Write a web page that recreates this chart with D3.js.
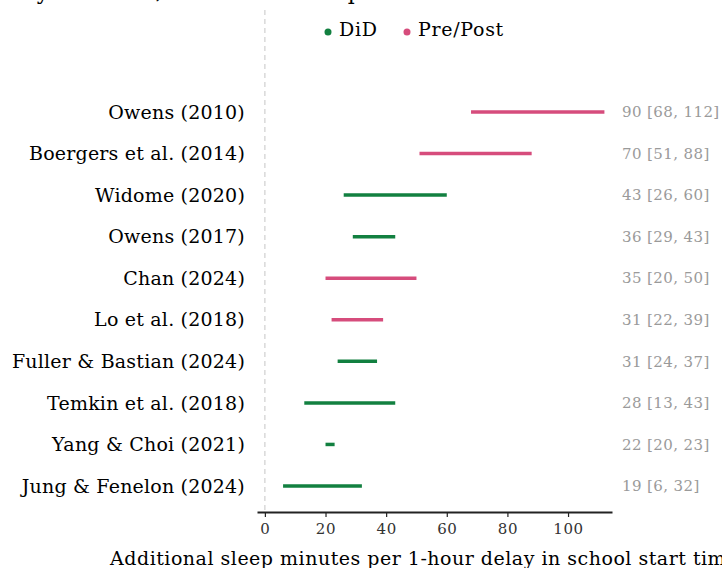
<!DOCTYPE html>
<html>
<head>
<meta charset="utf-8">
<script src="https://cdn.jsdelivr.net/npm/d3@7"></script>
<style>
  body { margin: 0; background: #fff; }
  svg { display: block; }
  text { font-family: "DejaVu Serif", serif; }
</style>
</head>
<body>
<svg id="chart" width="722" height="568"></svg>
<script>
var studies = ["Owens (2010)", "Boergers et al. (2014)", "Widome (2020)", "Owens (2017)", "Chan (2024)",
  "Lo et al. (2018)", "Fuller & Bastian (2024)", "Temkin et al. (2018)", "Yang & Choi (2021)", "Jung & Fenelon (2024)"];
var estimates = [90, 70, 43, 36, 35, 31, 31, 28, 22, 19];
var lower = [68, 51, 26, 29, 20, 22, 24, 13, 20, 6];
var upper = [112, 88, 60, 43, 50, 39, 37, 43, 23, 32];
var designs = ["Pre/Post", "Pre/Post", "DiD", "DiD", "Pre/Post", "Pre/Post", "DiD", "DiD", "DiD", "DiD"];
var legendKeys = ["DiD", "Pre/Post"];
var xTicks = [0, 20, 40, 60, 80, 100];

var svg = d3.select("#chart"),
  width = +svg.attr("width"),
  height = +svg.attr("height");

var color = d3.scaleOrdinal().domain(legendKeys).range(["#128040", "#d64c7c"]);

var x = d3.scaleLinear().domain([-2.6, 114.5]).range([257, 612]);
var y = d3.scalePoint().domain(studies).range([112, 486]);

var rows = studies.map(function(s, i) {
  return { study: s, est: estimates[i], lo: lower[i], hi: upper[i], design: designs[i] };
});

// title, mostly above the frame
svg.append("text")
  .attr("x", width / 2)
  .attr("y", -1)
  .attr("text-anchor", "middle")
  .style("font-size", "22px")
  .text("Delay the Start, Boost Teen Sleep: Estimated Effects of Each Study");

// zero reference
svg.append("line")
  .attr("x1", x(0)).attr("x2", x(0))
  .attr("y1", 10).attr("y2", 510)
  .attr("stroke", "#cfcfcf")
  .attr("stroke-width", 1.2)
  .attr("stroke-dasharray", "5,4");

// legend
var legend = svg.append("g").selectAll("g").data(legendKeys).enter().append("g")
  .attr("transform", function(d, i) { return "translate(" + (i === 0 ? 328 : 407) + ",29)"; });
legend.append("circle").attr("r", 3.5).attr("cy", 3).attr("fill", function(d) { return color(d); });
legend.append("text")
  .attr("x", 11).attr("dy", "0.35em")
  .style("font-size", "19px")
  .style("letter-spacing", "0.7px")
  .text(function(d) { return d; });

// study labels
svg.append("g").selectAll("text").data(rows).enter().append("text")
  .attr("x", 245)
  .attr("y", function(d) { return y(d.study); })
  .attr("dy", "0.35em")
  .attr("text-anchor", "end")
  .style("font-size", "19px")
  .style("letter-spacing", "0.2px")
  .text(function(d) { return d.study; });

// intervals
svg.append("g").selectAll("line").data(rows).enter().append("line")
  .attr("x1", function(d) { return x(d.lo); })
  .attr("x2", function(d) { return x(d.hi); })
  .attr("y1", function(d) { return y(d.study); })
  .attr("y2", function(d) { return y(d.study); })
  .attr("stroke", function(d) { return color(d.design); })
  .attr("stroke-width", 3.5);

// value annotations
svg.append("g").selectAll("text").data(rows).enter().append("text")
  .attr("x", 622)
  .attr("y", function(d) { return y(d.study); })
  .attr("dy", "0.35em")
  .attr("fill", "#9a9a9a")
  .style("font-size", "15px")
  .style("letter-spacing", "0.4px")
  .text(function(d) { return d.est + " [" + d.lo + ", " + d.hi + "]"; });

// x axis
var xAxis = svg.append("g")
  .attr("transform", "translate(0,512)")
  .call(d3.axisBottom(x).tickValues(xTicks).tickSize(5).tickPadding(6).tickSizeOuter(0));
xAxis.select(".domain").attr("stroke", "#222").attr("stroke-width", 2);
xAxis.selectAll(".tick line").attr("stroke", "#222").attr("stroke-width", 1.2);
xAxis.selectAll(".tick text")
  .style("font-family", "DejaVu Serif, serif")
  .style("font-size", "15px")
  .style("letter-spacing", "0.6px")
  .attr("fill", "#333");

svg.append("text")
  .attr("x", 424)
  .attr("y", 565)
  .attr("text-anchor", "middle")
  .style("font-size", "19px")
  .style("letter-spacing", "0.5px")
  .text("Additional sleep minutes per 1-hour delay in school start time");
</script>
</body>
</html>
